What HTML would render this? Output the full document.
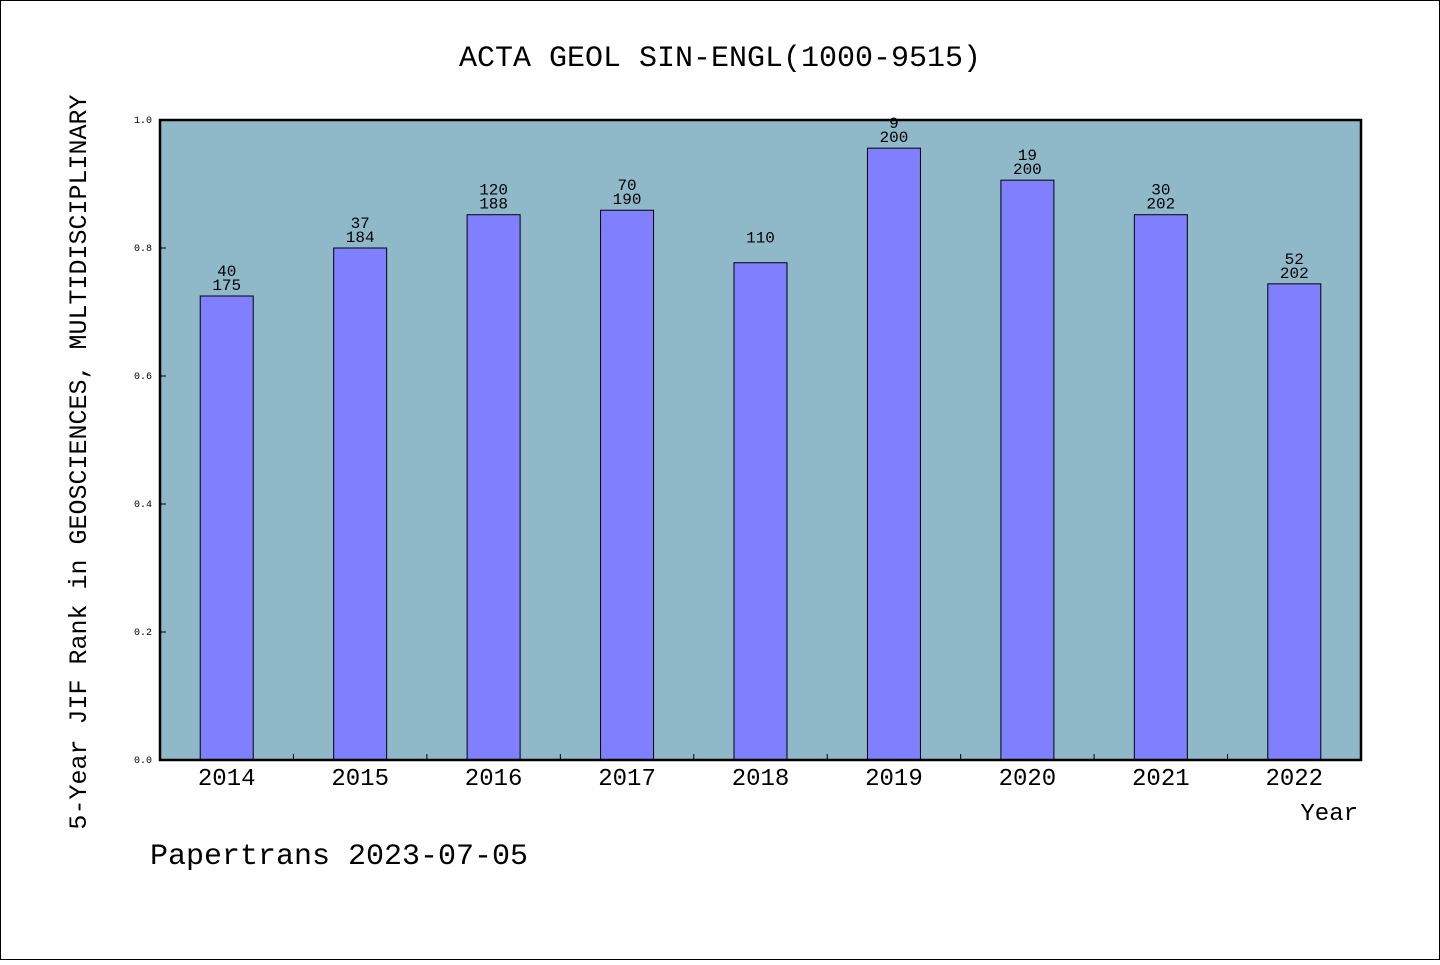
<!DOCTYPE html>
<html><head><meta charset="utf-8"><style>
body{margin:0;background:#fff}
svg text{font-family:"Liberation Mono","WenQuanYi Zen Hei",monospace;fill:#000}
</style></head><body>
<svg id="c" width="1440" height="960" xmlns="http://www.w3.org/2000/svg">
<rect x="0.5" y="0.5" width="1439" height="959" fill="#fff" stroke="#000"/>
<text x="720" y="66" font-size="30" text-anchor="middle">ACTA GEOL SIN-ENGL(1000-9515)</text>
<rect x="160" y="120" width="1201" height="640" fill="#8fb8c8"/>
<g id="bars"></g>
<rect x="160" y="120" width="1201" height="640" fill="none" stroke="#000" stroke-width="2.5"/>
<text transform="translate(86,462) rotate(-90)" font-size="25" text-anchor="middle">5-Year JIF Rank in GEOSCIENCES, MULTIDISCIPLINARY</text>
<text x="1358" y="820" font-size="24" text-anchor="end">Year</text>
<text x="150" y="864" font-size="30">Papertrans 2023-07-05</text>
</svg>
<script>
const years=["2014","2015","2016","2017","2018","2019","2020","2021","2022"];
const values=[0.725,0.800,0.852,0.859,0.777,0.956,0.906,0.852,0.744];
const ranks=["40","37","120","70","110","9","19","30","52"];
const totals=["175","184","188","190","","200","200","202","202"];
const yTicks=[0,0.2,0.4,0.6,0.8,1.0];
const X0=160,W=1201,Y0=760,H=640;
const step=W/years.length;
const xc=i=>X0+step*(i+0.5);
const y=v=>Y0-v*H;
const ns="http://www.w3.org/2000/svg";
const g=document.getElementById('bars');
function mk(t,a,parent){const e=document.createElementNS(ns,t);for(const k in a)e.setAttribute(k,a[k]);(parent||g).appendChild(e);return e;}
yTicks.forEach(v=>{
 const l=mk('line',{x1:X0,x2:X0+6,y1:y(v),y2:y(v),stroke:'#000'});
 
 
 const t=mk('text',{x:X0-8,y:y(v)+3,'font-size':10,'text-anchor':'end'});
 t.textContent=v.toFixed(1);
 
 
});
years.forEach((yr,i)=>{
 if(i>0){const tk=mk('line',{x1:X0+step*i,x2:X0+step*i,y1:Y0,y2:Y0-6,stroke:'#000'});
 
 }
 const bw=53;
 const r=mk('rect',{x:xc(i)-bw/2,y:y(values[i]),width:bw,height:Y0-y(values[i]),fill:'#8080ff',stroke:'#000','stroke-width':1});
 
 
 if(totals[i]){const t1=mk('text',{x:xc(i),y:y(values[i])-6,'font-size':16,'text-anchor':'middle'});
 t1.textContent=totals[i];
 
 }
 if(ranks[i]){const t2=mk('text',{x:xc(i),y:y(values[i])-20,'font-size':16,'text-anchor':'middle'});
 t2.textContent=ranks[i];
 
 }
 const xl=mk('text',{x:xc(i),y:785,'font-size':24,'text-anchor':'middle'});
 xl.textContent=yr;
 
 
});
</script>
</body></html>
